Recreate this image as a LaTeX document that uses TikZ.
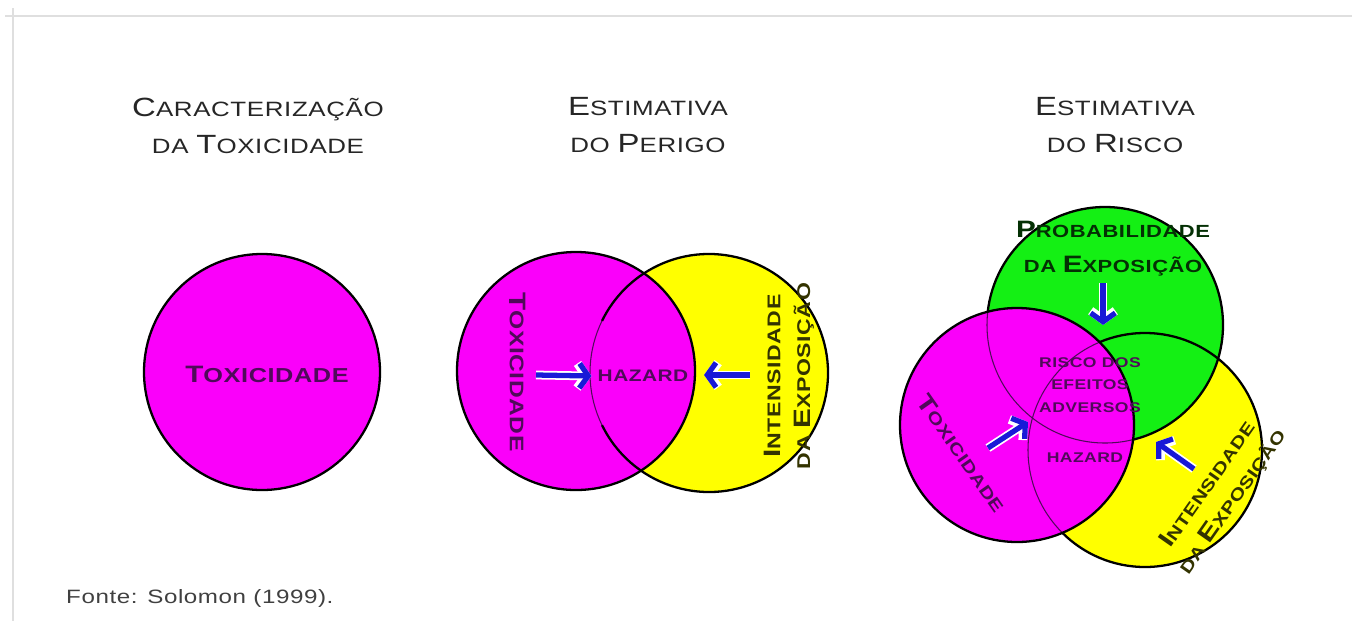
\documentclass[tikz,border=0pt]{standalone}
\usepackage{fontspec}
\setmainfont{Liberation Sans}
\newfontfamily\widefont[FakeStretch=1.25,LetterSpace=3]{Liberation Sans}
\usetikzlibrary{arrows.meta}
\definecolor{mag}{RGB}{250,0,250}
\definecolor{yel}{RGB}{255,255,0}
\definecolor{grn}{RGB}{20,240,20}
\definecolor{ink}{RGB}{80,10,90}
\definecolor{arrowblue}{RGB}{25,25,215}
\newcommand\bg[1]{{\fontsize{15}{15}\selectfont #1}}
\newcommand\bgl[1]{{\fontsize{13.5}{13.5}\selectfont #1}}
\tikzset{
  title/.style={font=\widefont\fontsize{11.8}{21}\selectfont, align=center, text=black!85},
  label/.style={font=\widefont\bfseries\fontsize{10.5}{17}\selectfont, align=center, text=ink},
  ring/.style={draw=black, line width=1.3pt},
  seam/.style={draw=ink, line width=0.6pt},
  halo/.style={white, line width=5pt, -{Straight Barb[length=5pt,width=14pt]}},
  push/.style={arrowblue, line width=3pt, -{Straight Barb[length=5pt,width=14pt]}}
}
\begin{document}
\begin{tikzpicture}[x=0.02cm,y=-0.02cm]
\useasboundingbox (0,0) rectangle (1352,629);
% page frame
\draw[gray!25, line width=1.2pt] (5,16) -- (1352,16);
\draw[gray!25, line width=1.2pt] (13,8) -- (13,621);

% titles
\node[title] (t1) at (258,126) {\bg{C}ARACTERIZAÇÃO\\DA \bg{T}OXICIDADE};
\node[title] (t2) at (648,125) {\bg{E}STIMATIVA\\DO \bg{P}ERIGO};
\node[title] (t3) at (1115,125) {\bg{E}STIMATIVA\\DO \bg{R}ISCO};

% caracterizacao
\fill[mag] (262,372) circle (118);
\draw[ring] (262,372) circle (118);
\node[label, font=\widefont\bfseries\fontsize{11.5}{12}\selectfont] (tox1) at (267,374) {\bgl{T}OXICIDADE};

% perigo
\fill[yel] (709,373) circle (119);
\fill[mag] (576,371) circle (119);
\begin{scope}
  \clip (576,371) circle (119);
  \draw[seam] (709,373) circle (119);
\end{scope}
\draw[ring] (576,371) circle (119);
\draw[ring] (709,373) ++(180-26:119) arc (180-26:-180+26:119);
\node[label, rotate=-90, font=\widefont\bfseries\fontsize{11.2}{17}\selectfont] (tox2) at (518,372) {\bgl{T}OXICIDADE};
\node[label, font=\widefont\bfseries\fontsize{9.5}{12}\selectfont] (haz2) at (643,376) {HAZARD};
\node[label, rotate=90, text=black!80!yel] (int2) at (789,376) {\bgl{I}NTENSIDADE\\DA \bgl{E}XPOSIÇÃO};
\coordinate (a2) at (536,375);
\coordinate (b2) at (750,375);
\coordinate (h2) at (704,375);

% risco
\fill[yel] (1145,450) circle (117);
\fill[grn] (1105,325) circle (118);
\draw[ring] (1145,450) circle (117);
\draw[ring] (1105,325) circle (118);
\fill[mag] (1017,425) circle (117);
\begin{scope}
  \clip (1017,425) circle (117);
  \draw[seam] (1145,450) circle (117);
  \draw[seam] (1105,325) circle (118);
\end{scope}
\draw[ring] (1017,425) circle (117);
\node[label, text=black!80!grn, font=\widefont\bfseries\fontsize{10}{20}\selectfont] (prob) at (1113,249) {\bgl{P}ROBABILIDADE\\DA \bgl{E}XPOSIÇÃO};
\node[label, font=\widefont\bfseries\fontsize{8}{13}\selectfont] (risk) at (1090,385) {RISCO DOS\\EFEITOS\\ADVERSOS};
\node[label, font=\widefont\bfseries\fontsize{8}{12}\selectfont] (haz3) at (1085,458) {HAZARD};
\node[label, rotate=-55, font=\widefont\bfseries\fontsize{9.5}{17}\selectfont] (tox3) at (962,453) {\bgl{T}OXICIDADE};
\node[label, rotate=55, text=black!80!yel, font=\widefont\bfseries\fontsize{9.5}{17}\selectfont] (int3) at (1220,493) {\bgl{I}NTENSIDADE\\DA \bgl{E}XPOSIÇÃO};
\coordinate (a3) at (1103,283);
\coordinate (c3) at (1103,325);
\coordinate (d3) at (988,448);
\coordinate (e3) at (1028,422);
\coordinate (f3) at (1194,469);
\coordinate (g3) at (1156,442);

% arrows
\foreach \s/\e in {a2/haz2.west, b2/h2, a3/c3, d3/e3, f3/g3} {
  \draw[halo] (\s) -- (\e);
  \draw[push] (\s) -- (\e);
}

% fonte
\node[font=\widefont\fontsize{11}{12}\selectfont, text=black!75, anchor=west] (src) at (60,598) {Fonte: Solomon (1999).};
\end{tikzpicture}
\end{document}
